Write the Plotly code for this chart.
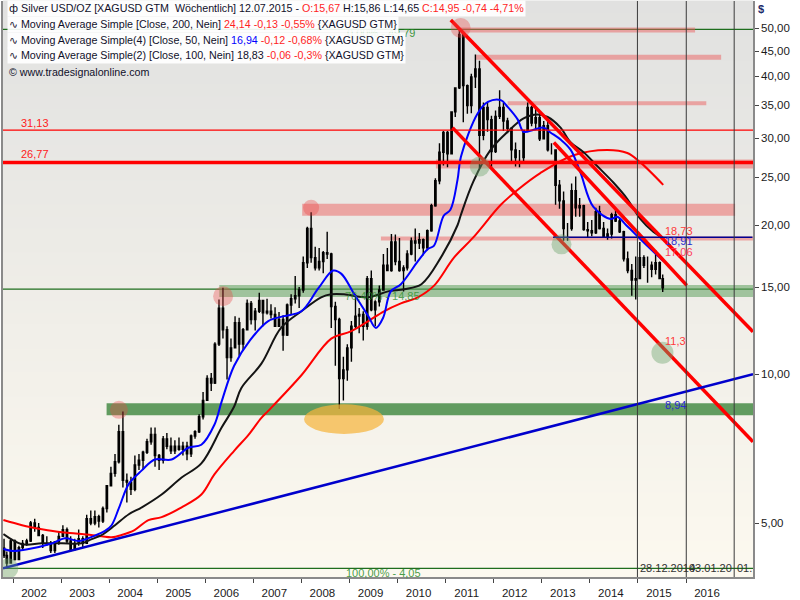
import plotly.graph_objects as go
import math

# ---------------- DATA ----------------
# monthly OHLC of Silver USD/OZ, Oct 2001 .. Jul 2015
years_months = ([(2001, m) for m in (10, 11, 12)] +
                [(y, m) for y in range(2002, 2015) for m in range(1, 13)] +
                [(2015, m) for m in range(1, 8)])
bar_dates = ["%d-%02d-15" % ym for ym in years_months]
bar_dates[0] = "2001-10-25"
bar_dates[-1] = "2015-07-08"

opens = [4.45, 4.30, 4.15,
         4.60, 4.22, 4.46, 4.55, 4.60, 5.00, 4.90, 4.72, 4.55, 4.55, 4.40, 4.58,
         4.70, 4.85, 4.60, 4.42, 4.55, 4.65, 4.55, 5.10, 5.00, 5.15, 5.05, 5.35,
         5.95, 6.30, 6.65, 7.65, 6.10, 6.05, 5.85, 6.55, 6.70, 6.95, 7.30, 7.55,
         6.85, 6.70, 7.40, 7.15, 7.00, 7.15, 7.05, 7.15, 6.90, 7.50, 7.65, 8.20,
         8.85, 9.80, 9.60, 11.50, 13.60, 12.30, 10.80, 11.30, 12.70, 11.50, 12.30, 13.90,
         12.90, 13.40, 14.10, 13.30, 13.40, 13.20, 12.50, 12.90, 12.00, 13.80, 14.20, 14.40,
         14.80, 16.80, 19.70, 17.20, 16.40, 16.90, 17.60, 17.50, 13.70, 12.90, 9.80, 10.20,
         11.30, 12.50, 13.10, 13.20, 12.50, 15.60, 13.50, 14.00, 14.80, 16.60, 16.20, 18.50,
         16.90, 16.20, 16.40, 17.50, 18.60, 18.40, 18.70, 18.00, 19.50, 21.90, 24.60, 28.10,
         30.80, 27.90, 33.90, 37.90, 48.60, 38.30, 34.90, 39.90, 41.40, 30.40, 34.60, 32.70,
         28.20, 33.20, 34.60, 32.50, 31.40, 28.40, 27.40, 27.40, 31.10, 34.60, 32.20, 33.00,
         29.90, 31.80, 28.40, 28.40, 24.10, 22.40, 19.70, 19.70, 23.50, 21.70, 21.90, 19.60,
         19.50, 19.30, 21.30, 19.70, 19.00, 19.20, 21.00, 20.40, 19.40, 17.10, 16.20, 15.50,
         15.60, 17.20, 16.60, 16.60, 16.30, 16.80, 15.60]
highs = [4.65, 4.38, 4.65,
         4.63, 4.50, 4.62, 4.65, 5.05, 5.10, 5.00, 4.75, 4.70, 4.60, 4.60, 4.80,
         4.95, 4.90, 4.70, 4.65, 4.85, 4.70, 5.20, 5.30, 5.30, 5.20, 5.40, 5.95,
         6.50, 6.90, 7.90, 8.40, 6.30, 6.20, 6.85, 6.90, 7.00, 7.40, 7.80, 7.80,
         6.90, 7.50, 7.60, 7.45, 7.35, 7.45, 7.30, 7.30, 7.55, 7.70, 8.30, 9.20,
         9.95, 10.05, 11.60, 14.15, 14.95, 12.50, 11.80, 13.10, 13.00, 12.40, 14.15, 14.05,
         13.60, 14.60, 14.10, 14.20, 13.85, 13.65, 13.35, 13.15, 13.90, 14.50, 15.80, 15.00,
         17.30, 19.85, 21.25, 18.10, 18.00, 17.75, 19.40, 17.60, 14.00, 13.00, 10.85, 11.50,
         12.80, 14.50, 13.60, 13.40, 15.80, 16.20, 14.10, 15.10, 17.50, 18.00, 19.20, 19.15,
         18.85, 16.60, 17.80, 18.90, 19.70, 19.30, 18.80, 19.60, 22.10, 24.90, 29.30, 31.00,
         31.00, 34.00, 38.00, 49.80, 48.70, 38.50, 40.50, 44.30, 43.00, 35.40, 35.50, 33.30,
         34.10, 37.50, 35.40, 33.00, 31.60, 29.40, 28.40, 31.20, 35.40, 34.90, 34.60, 33.90,
         32.50, 32.40, 29.30, 28.50, 24.70, 23.40, 20.20, 24.30, 25.10, 22.70, 22.00, 20.30,
         20.50, 21.70, 21.90, 20.30, 19.70, 21.20, 21.60, 20.70, 19.50, 17.70, 16.70, 17.30,
         18.50, 17.40, 17.30, 16.90, 17.80, 16.90, 15.90]
lows = [4.25, 4.05, 4.15,
        4.20, 4.22, 4.40, 4.50, 4.58, 4.80, 4.70, 4.45, 4.50, 4.35, 4.35, 4.52,
        4.70, 4.55, 4.38, 4.40, 4.50, 4.45, 4.55, 4.95, 4.95, 4.90, 5.00, 5.25,
        5.95, 6.20, 6.60, 5.90, 5.50, 5.70, 5.80, 6.40, 6.40, 6.90, 7.20, 6.50,
        6.40, 6.60, 7.05, 6.90, 6.90, 7.00, 6.85, 6.70, 6.80, 7.40, 7.60, 8.10,
        8.85, 9.25, 9.55, 11.40, 11.80, 9.75, 10.60, 11.30, 10.90, 11.15, 12.25, 12.60,
        12.25, 13.30, 12.50, 13.20, 12.95, 12.50, 12.45, 11.15, 11.95, 13.20, 13.90, 13.60,
        14.60, 16.40, 16.80, 16.20, 16.20, 16.00, 17.10, 12.40, 10.40, 8.50, 8.85, 9.70,
        10.60, 12.40, 12.10, 11.70, 12.30, 13.40, 12.50, 13.70, 14.80, 16.20, 16.10, 16.60,
        16.10, 14.70, 16.20, 17.40, 16.90, 17.90, 17.40, 17.80, 19.40, 21.80, 24.20, 26.40,
        26.20, 27.90, 33.10, 37.70, 32.30, 33.60, 33.70, 37.90, 26.10, 29.70, 30.90, 26.20,
        28.00, 32.80, 31.00, 30.70, 26.70, 26.30, 26.20, 26.60, 30.90, 31.70, 31.20, 29.60,
        29.90, 28.20, 27.80, 22.00, 21.60, 18.60, 18.60, 19.50, 20.80, 20.80, 19.50, 18.90,
        19.00, 19.20, 19.60, 19.00, 18.70, 18.80, 20.30, 19.30, 16.90, 16.00, 14.40, 14.15,
        15.60, 16.40, 15.30, 15.70, 15.90, 15.60, 14.65]
closes = [4.30, 4.15, 4.60,
          4.22, 4.46, 4.55, 4.60, 5.00, 4.90, 4.72, 4.55, 4.55, 4.40, 4.58, 4.70,
          4.85, 4.60, 4.42, 4.55, 4.65, 4.55, 5.10, 5.00, 5.15, 5.05, 5.35, 5.95,
          6.30, 6.65, 7.65, 6.10, 6.05, 5.85, 6.55, 6.70, 6.95, 7.30, 7.55, 6.85,
          6.70, 7.40, 7.15, 7.00, 7.15, 7.05, 7.15, 6.90, 7.50, 7.65, 8.20, 8.85,
          9.80, 9.60, 11.50, 13.60, 12.30, 10.80, 11.30, 12.70, 11.50, 12.30, 13.90, 12.90,
          13.40, 14.10, 13.30, 13.40, 13.20, 12.50, 12.90, 12.00, 13.80, 14.20, 14.40, 14.80,
          16.80, 19.70, 17.20, 16.40, 16.90, 17.60, 17.50, 13.70, 12.90, 9.80, 10.20, 11.30,
          12.50, 13.10, 13.20, 12.50, 15.60, 13.50, 14.00, 14.80, 16.60, 16.20, 18.50, 16.90,
          16.20, 16.40, 17.50, 18.60, 18.40, 18.70, 18.00, 19.50, 21.90, 24.60, 28.10, 30.80,
          27.90, 33.90, 37.90, 48.60, 38.30, 34.90, 39.90, 41.40, 30.40, 34.60, 32.70, 28.20,
          33.20, 34.60, 32.50, 31.40, 28.40, 27.40, 27.40, 31.10, 34.60, 32.20, 33.00, 29.90,
          31.80, 28.40, 28.40, 24.10, 22.40, 19.70, 19.70, 23.50, 21.70, 21.90, 19.60, 19.50,
          19.30, 21.30, 19.70, 19.00, 19.20, 21.00, 20.40, 19.40, 17.10, 16.20, 15.50, 15.60,
          17.20, 16.60, 16.60, 16.30, 16.80, 15.60, 14.95]

# moving averages
ma50_dates = ["2001-10-20", "2002-01-01", "2002-05-01", "2002-10-15", "2003-02-01", "2003-05-15",
              "2003-09-01", "2003-12-01", "2004-01-20", "2004-03-20", "2004-05-30", "2004-09-06",
              "2004-12-13", "2005-04-20", "2005-08-25", "2005-12-02", "2006-03-11", "2006-05-05",
              "2006-08-08", "2006-12-06", "2007-04-24", "2007-08-22", "2008-01-01", "2008-05-08",
              "2008-08-30", "2008-10-31", "2009-02-06", "2009-05-23", "2009-07-20", "2009-09-13",
              "2009-11-10", "2010-01-26", "2010-06-03", "2010-08-19", "2010-10-05", "2010-12-17",
              "2011-02-06", "2011-04-01", "2011-04-27", "2011-09-02", "2011-11-18", "2012-02-24",
              "2012-04-16", "2012-07-02", "2012-08-15", "2012-10-31", "2013-01-15", "2013-03-07",
              "2013-05-23", "2013-08-08", "2013-10-20", "2014-01-26", "2014-06-07", "2014-07-27",
              "2014-10-12", "2015-01-19", "2015-04-27", "2015-07-12"]
ma50_values = [4.43, 4.39, 4.43, 4.54, 4.66, 4.60, 4.70, 4.82, 4.95, 5.40, 6.00, 6.39,
               6.72, 6.72, 7.10, 7.20, 7.90, 8.80, 10.40, 11.70, 12.80, 13.10, 13.40, 14.90,
               16.20, 15.95, 14.50, 13.10, 12.40, 13.00, 14.70, 15.20, 16.90, 17.90, 18.20, 20.90,
               21.50, 24.70, 27.50, 33.70, 35.50, 35.80, 34.70, 32.70, 30.90, 31.20, 31.50, 30.80,
               29.80, 28.40, 25.60, 21.80, 20.60, 20.80, 19.90, 18.75, 17.70, 16.94]

ma100_dates = ["2001-10-20", "2002-03-11", "2002-08-08", "2003-01-08", "2003-06-07", "2003-08-22",
               "2003-11-06", "2004-02-15", "2004-05-30", "2004-09-06", "2005-02-03", "2005-07-05",
               "2005-12-02", "2006-05-05", "2006-08-08", "2006-10-01", "2007-03-03", "2007-07-30",
               "2008-01-01", "2008-05-30", "2008-08-15", "2008-11-20", "2009-05-23", "2009-10-20",
               "2010-02-20", "2010-07-01", "2010-11-25", "2011-04-01", "2011-04-27", "2011-07-30",
               "2011-12-08", "2012-04-16", "2012-08-15", "2012-11-28", "2013-02-14", "2013-05-23",
               "2013-08-08", "2013-11-14", "2014-02-28", "2014-06-28", "2014-10-12", "2015-01-19",
               "2015-04-27", "2015-07-12"]
ma100_values = [4.75, 4.53, 4.55, 4.55, 4.55, 4.64, 4.73, 4.95, 5.21, 5.38, 5.71, 6.18,
                6.60, 7.80, 8.60, 9.37, 10.50, 12.40, 13.40, 14.30, 14.50, 14.50, 14.30, 14.70,
                14.85, 15.20, 17.20, 20.00, 21.00, 24.50, 28.40, 30.90, 32.90, 33.50, 33.10, 31.50,
                29.40, 28.10, 26.30, 24.40, 22.60, 20.60, 19.40, 18.83]

ma200_dates = ["2001-10-20", "2002-03-11", "2002-08-08", "2003-01-08", "2003-06-07", "2003-11-06",
               "2004-01-20", "2004-04-05", "2004-07-12", "2004-10-26", "2005-02-03", "2005-07-05",
               "2005-12-02", "2006-03-11", "2006-08-08", "2006-11-25", "2007-03-03", "2007-04-24",
               "2008-01-01", "2008-08-15", "2009-01-10", "2009-05-23", "2009-09-20", "2010-01-26",
               "2010-06-03", "2010-10-05", "2011-03-05", "2011-07-30", "2012-02-24", "2012-07-02",
               "2012-12-20", "2013-08-30", "2014-05-10", "2014-10-12", "2015-01-19", "2015-07-12"]
ma200_values = [5.07, 4.95, 4.86, 4.79, 4.75, 4.70, 4.68, 4.73, 4.84, 5.07, 5.14, 5.38,
                5.71, 6.27, 7.00, 7.54, 8.16, 8.43, 9.95, 11.80, 12.20, 12.80, 13.40, 13.90,
                14.30, 15.10, 17.20, 18.90, 22.00, 23.60, 25.50, 27.70, 28.40, 28.00, 26.80, 24.14]

# trend lines (start date, start value, end date, end value)
red_trend_lines = [("2011-02-09", 52.0, "2017-05-24", 12.18),
                   ("2011-02-22", 31.5, "2017-05-24", 7.30),
                   ("2013-04-02", 29.4, "2016-01-07", 15.12)]
blue_trend_line = ("2001-10-17", 4.05, "2017-05-24", 10.0)

# resistance (pink) zones: level, from, to
pink_levels = [49.6, 43.7, 35.3, 26.6, 21.5, 18.8]
pink_from = ["2011-04-25", "2011-08-17", "2012-04-16", "2010-10-19", "2008-01-07", "2009-08-27"]
pink_to = ["2016-03-10", "2016-09-24", "2016-06-03", "2017-05-24", "2017-01-08", "2017-05-24"]
# support (green) zones
green_levels = [14.73, 8.495]
green_from = ["2006-04-17", "2003-12-13"]
green_to = ["2017-05-24", "2017-05-24"]

# horizontal lines
red_line_levels = [31.13, 26.77]
fib_levels = [49.79, 14.85, 4.05]
blue_hline = (18.91, "2013-03-27", "2017-05-20")

# marked turning points
red_mark_dates = ["2011-04-25", "2008-03-15", "2006-05-16", "2004-03-16"]
red_mark_values = [50.1, 21.7, 14.37, 8.47]
green_mark_dates = ["2011-09-17", "2013-05-30", "2015-07-06", "2001-11-27"]
green_mark_values = [26.3, 18.3, 11.05, 4.05]
low_zone = ("2008-01-21", 7.57, "2009-09-19", 8.69)

cycle_dates = ["2014-12-28", "2016-01-03", "2017-01-01"]
cycle_labels = ["28.12.2014", "03.01.20", "01."]

year_ticks = ["%d-01-01" % y for y in range(2002, 2017)]
year_labels = [str(y) for y in range(2002, 2017)]
price_ticks = [5, 10, 15, 20, 25, 30, 35, 40, 45, 50]
price_labels = ["5,00", "10,00", "15,00", "20,00", "25,00", "30,00", "35,00", "40,00", "45,00", "50,00"]

X_RANGE = ["2001-10-17", "2017-05-24"]
Y_RANGE = [3.89, 56.8]

# ---------------- FIGURE ----------------
L, R, T, B = 1, 753, 1, 581
W, H = R - L, B - T


def px(x):
    return (x - L) / W


def py(y):
    return 1 - (y - T) / H


FONT = "Liberation Sans"
fig = go.Figure()

fig.add_trace(go.Candlestick(
    x=bar_dates, open=opens, high=highs, low=lows, close=closes,
    increasing=dict(line=dict(color="#000000", width=1.4), fillcolor="#ffffff"),
    decreasing=dict(line=dict(color="#000000", width=1.4), fillcolor="#000000"),
    whiskerwidth=0, hoverinfo="skip", showlegend=False))

fig.add_trace(go.Scatter(x=ma200_dates, y=ma200_values, mode="lines", line=dict(color="#ff0000", width=2, shape="spline"), hoverinfo="skip"))
fig.add_trace(go.Scatter(x=ma100_dates, y=ma100_values, mode="lines", line=dict(color="#141414", width=2, shape="spline"), hoverinfo="skip"))
fig.add_trace(go.Scatter(x=ma50_dates, y=ma50_values, mode="lines", line=dict(color="#0000ff", width=2, shape="spline"), hoverinfo="skip"))

for (d0, v0, d1, v1) in red_trend_lines:
    fig.add_trace(go.Scatter(x=[d0, d1], y=[v0, v1], mode="lines", line=dict(color="#ff0000", width=3.5), hoverinfo="skip"))
d0, v0, d1, v1 = blue_trend_line
fig.add_trace(go.Scatter(x=[d0, d1], y=[v0, v1], mode="lines", line=dict(color="#0000cc", width=2.5), hoverinfo="skip"))

# horizontal red levels across the whole chart
fig.add_trace(go.Scatter(x=X_RANGE, y=[red_line_levels[0]] * 2, mode="lines", line=dict(color="#ff0000", width=1.3), hoverinfo="skip"))
fig.add_trace(go.Scatter(x=X_RANGE, y=[red_line_levels[1]] * 2, mode="lines", line=dict(color="#ff0000", width=3.5), hoverinfo="skip"))
lev, a, b = blue_hline
fig.add_trace(go.Scatter(x=[a, b], y=[lev, lev], mode="lines", line=dict(color="#000090", width=1.5), hoverinfo="skip"))

# marks
fig.add_trace(go.Scatter(x=red_mark_dates, y=red_mark_values, mode="markers",
                         marker=dict(size=[20, 16, 20, 18], color="rgba(235,70,70,0.5)", line=dict(width=0)),
                         hoverinfo="skip"))
fig.add_trace(go.Scatter(x=green_mark_dates, y=green_mark_values, mode="markers",
                         marker=dict(size=[20, 20, 22, 20], color="rgba(110,165,110,0.6)", line=dict(width=0)),
                         hoverinfo="skip"))

shapes = []
# background gradient (style only)
top_c = (225, 225, 224)
bot_c = (252, 249, 239)
N = 48
for i in range(N):
    t = i / (N - 1)
    c = tuple(int(round(top_c[k] + (bot_c[k] - top_c[k]) * t)) for k in range(3))
    shapes.append(dict(type="rect", xref="paper", yref="paper", x0=0, x1=1,
                       y0=1 - (i + 1) / N, y1=1 - i / N + 0.001, fillcolor="rgb(%d,%d,%d)" % c,
                       line=dict(width=0), layer="below"))

pink_widths = [5, 5, 4, 9, 12, 4]
for lev, a, b, w in zip(pink_levels, pink_from, pink_to, pink_widths):
    shapes.append(dict(type="line", xref="x", yref="y", x0=a, x1=b, y0=lev, y1=lev,
                       line=dict(color="rgba(235,95,95,0.5)", width=w), layer="below"))
green_colors = ["rgba(95,160,95,0.55)", "rgba(70,140,70,0.85)"]
for lev, a, b, c in zip(green_levels, green_from, green_to, green_colors):
    shapes.append(dict(type="line", xref="x", yref="y", x0=a, x1=b, y0=lev, y1=lev,
                       line=dict(color=c, width=12), layer="below"))
for lev in fib_levels:
    shapes.append(dict(type="line", xref="paper", yref="y", x0=0, x1=1, y0=lev, y1=lev,
                       line=dict(color="#1e6e1e", width=1.3), layer="below"))
# cycle lines
for d in cycle_dates:
    shapes.append(dict(type="line", xref="x", yref="paper", x0=d, x1=d, y0=0, y1=1,
                       line=dict(color="#3a3a3a", width=1), layer="above"))
# low zone ellipse
a, v0, b, v1 = low_zone
shapes.append(dict(type="circle", xref="x", yref="y", x0=a, x1=b, y0=v0, y1=v1,
                   fillcolor="rgba(246,180,60,0.72)", line=dict(width=0), layer="above"))

ann = []


def label(x, y, text, color, size=11, xanchor="left", bg=None, **kw):
    d = dict(xref="paper", yref="paper", x=px(x), y=py(y), text=text, showarrow=False,
             xanchor=xanchor, yanchor="middle", font=dict(family=FONT, size=size, color=color))
    if bg:
        d.update(bgcolor=bg, borderpad=1)
    d.update(kw)
    ann.append(d)


label(17, 124, "31,13", "#ff2020")
label(17, 155, "26,77", "#ff2020")
label(663, 233, "18,73", "#ff3a3a")
label(663, 243, "18,91", "#2a2ad0")
label(663, 254, "17,06", "#ff3a5a")
label(663, 343, "11,3", "#ff3a3a")
label(663, 408, "8,94", "#2a2ad0")
label(342, 298, "76,40% - 14,85", "rgba(40,140,40,0.75)")
label(343, 577, "100,00% - 4,05", "rgba(40,140,40,0.85)")
label(417, 33, "0,00% - 49,79", "rgba(40,140,40,0.9)", xanchor="right")
for d, t, xp in zip(cycle_dates, cycle_labels, [638, 687, 735]):
    label(xp, 572, t, "#333333")

# legend block
R_ = "#ff1f1f"
K = "#10102a"
bg = "rgba(255,255,255,0.92)"
LS = 10.7
label(5, 9, "<span style='font-family:DejaVu Sans'>ф</span> Silver USD/OZ [XAGUSD GTM  Wöchentlich] 12.07.2015 - "
      "<span style='color:%s'>O:15,67</span> H:15,86 L:14,65 <span style='color:%s'>C:14,95 -0,74 -4,71%%</span>" % (R_, R_),
      K, size=LS, bg=bg)
label(5, 25, "<span style='font-family:DejaVu Sans'>∿</span> Moving Average Simple [Close, 200, Nein] "
      "<span style='color:%s'>24,14 -0,13 -0,55%%</span> {XAGUSD GTM}" % R_, K, size=LS, bg=bg)
label(5, 41, "<span style='font-family:DejaVu Sans'>∿</span> Moving Average Simple(4) [Close, 50, Nein] "
      "<span style='color:#0000ff'>16,94</span> <span style='color:%s'>-0,12 -0,68%%</span> {XAGUSD GTM}" % R_, K, size=LS, bg=bg)
label(5, 56, "<span style='font-family:DejaVu Sans'>∿</span> Moving Average Simple(2) [Close, 100, Nein] 18,83 "
      "<span style='color:%s'>-0,06 -0,3%%</span> {XAGUSD GTM}" % R_, K, size=LS, bg=bg)
label(5, 72, "© www.tradesignalonline.com", K, size=LS)
label(761, 9, "<b>$</b>", "#1c2a6a", size=11, xanchor="center")

fig.update_layout(
    width=800, height=600,
    margin=dict(l=L, r=800 - R, t=T, b=600 - B),
    paper_bgcolor="#ffffff", plot_bgcolor="#e9e8e4",
    showlegend=False,
    font=dict(family=FONT, size=11, color="#1a1a1a"),
    shapes=shapes, annotations=ann,
    xaxis=dict(type="date", range=X_RANGE, tickvals=year_ticks, ticktext=year_labels,
               ticks="outside", ticklen=4, tickcolor="#444444", ticklabelshift=21,
               showgrid=False, zeroline=False, showline=True, linecolor="#8a8a8a", linewidth=1.5,
               rangeslider=dict(visible=False), tickfont=dict(family=FONT, size=11.5, color="#1a1a1a")),
    yaxis=dict(type="log", side="right", range=[math.log10(Y_RANGE[0]), math.log10(Y_RANGE[1])],
               tickvals=price_ticks, ticktext=price_labels, ticks="outside", ticklen=4,
               tickcolor="#444444", showgrid=False, zeroline=False, showline=True, mirror=True,
               linecolor="#8a8a8a", linewidth=1.5, tickfont=dict(family=FONT, size=11.5, color="#1a1a1a")),
)

fig.write_html("out.html", config={"displayModeBar": False},
               post_script="document.body.style.margin='0px';document.body.style.padding='0px';")
